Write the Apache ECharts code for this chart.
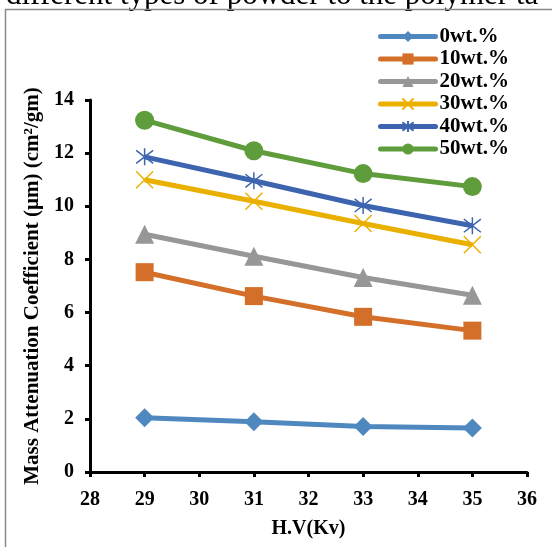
<!DOCTYPE html>
<html><head><meta charset="utf-8">
<script src="https://cdn.jsdelivr.net/npm/echarts@6/dist/echarts.min.js"></script>
<style>html,body{margin:0;padding:0;background:#fff}#c{width:552px;height:547px}</style>
</head><body><div id="c"></div>
<script>
const xValues = [29, 31, 33, 35];
const seriesNames = ['0wt.%', '10wt.%', '20wt.%', '30wt.%', '40wt.%', '50wt.%'];
const wt0 = [2.04, 1.89, 1.71, 1.66];
const wt10 = [7.52, 6.62, 5.84, 5.32];
const wt20 = [8.95, 8.12, 7.32, 6.65];
const wt30 = [11.0, 10.19, 9.35, 8.55];
const wt40 = [11.86, 10.96, 10.03, 9.27];
const wt50 = [13.24, 12.09, 11.23, 10.74];
const colors = ['#4E88BE', '#D46F2A', '#979797', '#EAB000', '#3D65AF', '#5F9C3B'];
const FONT = '"Liberation Serif","Times New Roman",serif';

const xPath = 'path://M0 0 L10 10 M10 0 L0 10';
const starPath = 'path://M0 0 L10 10 M10 0 L0 10 M5 -1.5 L5 11.5';

function mk(i, data, symbol, size, stroke) {
  const s = {
    name: seriesNames[i], type: 'line', data: xValues.map((x, k) => [x, data[k]]),
    symbol: symbol, symbolSize: size, showAllSymbol: true,
    lineStyle: { color: colors[i], width: 5 },
    itemStyle: { color: colors[i] },
    z: 2 + i
  };
  if (stroke) {
    s.itemStyle = { color: 'rgba(0,0,0,0)', borderColor: colors[i], borderWidth: 1.5 };
  }
  return s;
}

const chart = echarts.init(document.getElementById('c'), null, { renderer: 'canvas' });
chart.setOption({
  animation: false,
  backgroundColor: '#fff',
  graphic: [
    { type: 'text', left: 6, top: -20, style: { text: 'different types of powder to the polymer ta', font: '31px ' + FONT, fill: '#000' } },
    { type: 'rect', shape: { x: 5.5, y: 9.5, width: 600, height: 600 }, style: { fill: 'none', stroke: '#8a8a8a', lineWidth: 1.5 } }
  ],
  grid: { left: 90, right: 25, top: 100, bottom: 75, containLabel: false },
  legend: {
    orient: 'vertical', left: 378, top: 26, padding: 0, itemWidth: 55, itemHeight: 14, itemGap: 1.5,
    data: seriesNames,
    lineStyle: { width: 5, cap: 'round' },
    textStyle: { fontFamily: FONT, fontWeight: 'bold', fontSize: 21, lineHeight: 20, color: '#000', padding: [0, 0, 0, -1] }
  },
  xAxis: {
    type: 'value', min: 28, max: 36, interval: 1,
    name: 'H.V(Kv)', nameLocation: 'middle', nameGap: 47,
    nameTextStyle: { fontFamily: FONT, fontWeight: 'bold', fontSize: 20, color: '#000' },
    axisLine: { onZero: false, lineStyle: { color: '#000', width: 3 } },
    axisTick: { show: true, length: 5, lineStyle: { color: '#000', width: 3 } },
    axisLabel: { fontFamily: FONT, fontWeight: 'bold', fontSize: 20, color: '#000', margin: 18 },
    splitLine: { show: false }
  },
  yAxis: {
    type: 'value', min: 0, max: 14, interval: 2,
    name: 'Mass Attenuation Coefficient (µm) (cm²/gm)', nameLocation: 'middle', nameGap: 47,
    nameTextStyle: { fontFamily: FONT, fontWeight: 'bold', fontSize: 21, color: '#000' },
    axisLine: { show: true, lineStyle: { color: '#000', width: 3 } },
    axisTick: { show: true, length: 5, lineStyle: { color: '#000', width: 3 } },
    axisLabel: { fontFamily: FONT, fontWeight: 'bold', fontSize: 20, color: '#000', margin: 16 },
    splitLine: { show: false }
  },
  series: [
    mk(0, wt0, 'diamond', 19),
    mk(1, wt10, 'rect', 18),
    mk(2, wt20, 'triangle', 19),
    mk(3, wt30, xPath, 17, true),
    mk(4, wt40, starPath, 17, true),
    mk(5, wt50, 'circle', 19)
  ]
});
</script></body></html>
